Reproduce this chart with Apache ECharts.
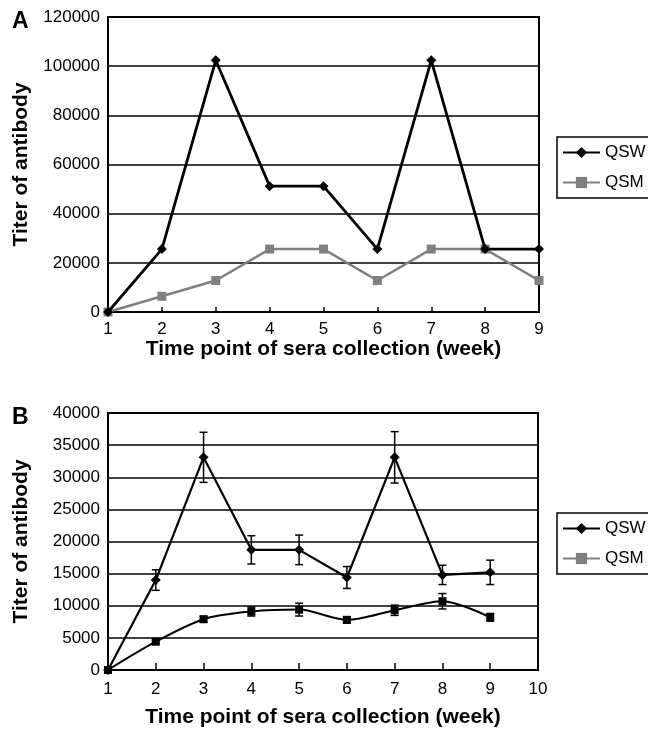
<!DOCTYPE html>
<html>
<head>
<meta charset="utf-8">
<script src="https://cdn.jsdelivr.net/npm/echarts@6/dist/echarts.min.js"></script>
<style>html,body{margin:0;padding:0;background:#fff}#c{width:648px;height:730px}</style>
</head>
<body>
<div id="c"></div>
<script>
const weeks = [1, 2, 3, 4, 5, 6, 7, 8, 9];
const qswA = [0, 25600, 102400, 51200, 51200, 25600, 102400, 25600, 25600];
const qsmA = [0, 6400, 12800, 25600, 25600, 12800, 25600, 25600, 12800];
const qswB = [0, 14000, 33100, 18700, 18700, 14400, 33100, 14800, 15200];
const qswBErr = [0, 1600, 3900, 2200, 2300, 1700, 4000, 1500, 1900];
const qsmB = [0, 4400, 7900, 9100, 9400, 7800, 9300, 10700, 8200];
const qsmBErr = [0, 250, 450, 700, 1000, 500, 800, 1200, 600];
const yTicksA = [0, 20000, 40000, 60000, 80000, 100000, 120000];
const yTicksB = [0, 5000, 10000, 15000, 20000, 25000, 30000, 35000, 40000];

const FONT = 'Liberation Sans';
const pair = (xs, ys) => xs.map((x, i) => [x, ys[i]]);
const errData = (xs, ys, es) => xs.map((x, i) => [x, ys[i] - es[i], ys[i] + es[i]]).filter((d, i) => es[i] > 0);

function errSeries(xIdx, yIdx, data) {
  return {
    type: 'custom', xAxisIndex: xIdx, yAxisIndex: yIdx, data: data, z: 5, silent: true,
    renderItem: function (params, api) {
      const lo = api.coord([api.value(0), api.value(1)]);
      const hi = api.coord([api.value(0), api.value(2)]);
      const w = 4;
      const st = { stroke: '#000', lineWidth: 1.5 };
      return { type: 'group', children: [
        { type: 'line', shape: { x1: lo[0], y1: lo[1], x2: hi[0], y2: hi[1] }, style: st },
        { type: 'line', shape: { x1: lo[0] - w, y1: lo[1], x2: lo[0] + w, y2: lo[1] }, style: st },
        { type: 'line', shape: { x1: hi[0] - w, y1: hi[1], x2: hi[0] + w, y2: hi[1] }, style: st }
      ]};
    }
  };
}

const axisLabel = { color: '#000', fontFamily: FONT, fontSize: 17, formatter: v => String(v) };
const nameStyle = { color: '#000', fontFamily: FONT, fontSize: 21, fontWeight: 'bold' };
function xAxis(grid, max, tickLen, margin, gap) {
  return {
    type: 'value', gridIndex: grid, min: 1, max: max, interval: 1,
    axisLine: { lineStyle: { color: '#000', width: 2 } },
    axisTick: { show: true, inside: true, length: tickLen, lineStyle: { color: '#000', width: 1.5 } },
    splitLine: { show: false },
    axisLabel: Object.assign({ margin: margin }, axisLabel),
    name: 'Time point of sera collection (week)', nameLocation: 'middle', nameGap: gap,
    nameTextStyle: nameStyle
  };
}
function yAxis(grid, ticks) {
  return {
    type: 'value', gridIndex: grid, min: ticks[0], max: ticks[ticks.length - 1],
    interval: ticks[1] - ticks[0],
    axisLine: { show: true, lineStyle: { color: '#000', width: 2 } },
    axisTick: { show: false },
    splitLine: { show: true, lineStyle: { color: '#000', width: 1.5 } },
    axisLabel: Object.assign({ margin: 8 }, axisLabel),
    name: 'Titer of antibody', nameLocation: 'middle', nameRotate: 90, nameGap: 76,
    nameTextStyle: nameStyle
  };
}
function legend(top) {
  return {
    left: 557, top: top, orient: 'vertical', padding: [7, 6, 7, 5], itemGap: 13,
    itemWidth: 37, itemHeight: 14, borderColor: '#000', borderWidth: 1.5,
    textStyle: { color: '#000', fontFamily: FONT, fontSize: 17 },
    data: [
      { name: 'QSW', itemStyle: { color: '#000' }, lineStyle: { color: '#000', width: 2 } },
      { name: 'QSM', itemStyle: { color: '#808080' }, lineStyle: { color: '#808080', width: 2 } }
    ]
  };
}

const chart = echarts.init(document.getElementById('c'), null, { renderer: 'canvas' });
chart.setOption({
  animation: false,
  backgroundColor: '#fff',
  title: [
    { text: 'A', left: 7, top: 5, textStyle: { fontFamily: FONT, fontSize: 23, fontWeight: 'bold', color: '#000' } },
    { text: 'B', left: 7, top: 401, textStyle: { fontFamily: FONT, fontSize: 23, fontWeight: 'bold', color: '#000' } }
  ],
  grid: [
    { left: 108, top: 17, width: 431, height: 295, show: true, borderColor: '#000', borderWidth: 2, backgroundColor: 'transparent' },
    { left: 108, top: 413, width: 430, height: 257, show: true, borderColor: '#000', borderWidth: 2, backgroundColor: 'transparent' }
  ],
  legend: [legend(137), legend(513)],
  xAxis: [xAxis(0, 9, 5, 9, 27), xAxis(1, 10, 7, 11, 37)],
  yAxis: [yAxis(0, yTicksA), yAxis(1, yTicksB)],
  series: [
    { name: 'QSW', type: 'line', xAxisIndex: 0, yAxisIndex: 0, data: pair(weeks, qswA),
      symbol: 'diamond', symbolSize: 10, itemStyle: { color: '#000' }, lineStyle: { color: '#000', width: 2.8 }, z: 4 },
    { name: 'QSM', type: 'line', xAxisIndex: 0, yAxisIndex: 0, data: pair(weeks, qsmA),
      symbol: 'rect', symbolSize: 9, itemStyle: { color: '#808080' }, lineStyle: { color: '#808080', width: 2.5 }, z: 3 },
    { name: 'QSW', type: 'line', xAxisIndex: 1, yAxisIndex: 1, data: pair(weeks, qswB),
      symbol: 'diamond', symbolSize: 10, itemStyle: { color: '#000' }, lineStyle: { color: '#000', width: 2.2 }, z: 4 },
    { name: 'QSM', type: 'line', xAxisIndex: 1, yAxisIndex: 1, data: pair(weeks, qsmB), smooth: 0.3,
      symbol: 'rect', symbolSize: 8, itemStyle: { color: '#000' }, lineStyle: { color: '#000', width: 2 }, z: 4 },
    errSeries(1, 1, errData(weeks, qswB, qswBErr)),
    errSeries(1, 1, errData(weeks, qsmB, qsmBErr))
  ]
});
</script>
</body>
</html>
